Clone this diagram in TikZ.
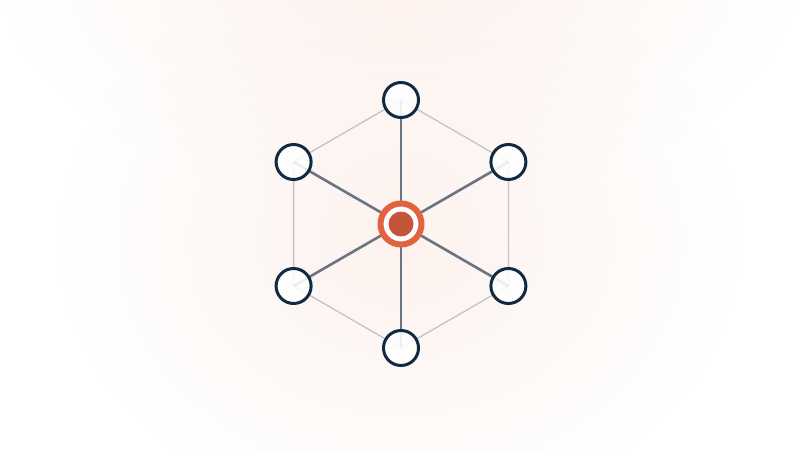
\documentclass[tikz,border=0pt]{standalone}
\usetikzlibrary{fadings}
\tikzfading[name=softglow, inner color=transparent!0, outer color=transparent!100]
\begin{document}
\begin{tikzpicture}[x=1pt,y=-1pt,
  outer/.style={circle,draw=navy,line width=3pt,fill=white,fill opacity=0.88,draw opacity=1,minimum size=35pt,inner sep=0pt},
  spoke/.style={draw=spokegray,line width=2.6pt},
  rim/.style={draw=rimgray,line width=1.3pt}]
\definecolor{navy}{HTML}{0F2A42}
\definecolor{spokegray}{HTML}{6B7581}
\definecolor{rimgray}{HTML}{C3C3C5}
\definecolor{ringorange}{HTML}{E0643F}
\definecolor{dotred}{HTML}{C4553B}
\definecolor{glow}{HTML}{FDF2EE}
\useasboundingbox (0,0) rectangle (800,450);
\fill[white] (0,0) rectangle (800,450);
\begin{scope}
\clip (0,0) rectangle (800,450);
\fill[glow, path fading=softglow] (400,-30) ellipse (400 and 230);
\fill[glow, path fading=softglow] (400,240) ellipse (340 and 280);
\end{scope}
\coordinate (c) at (401,224);
\coordinate (p1) at (401,100);
\coordinate (p2) at (508.4,162);
\coordinate (p3) at (508.4,286);
\coordinate (p4) at (401,348);
\coordinate (p5) at (293.6,286);
\coordinate (p6) at (293.6,162);
\draw[rim] (p1) -- (p2) -- (p3) -- (p4) -- (p5) -- (p6) -- cycle;
\foreach \i in {1,...,6} \draw[spoke] (c) -- (p\i);
\foreach \i in {1,...,6} \node[outer] (n\i) at (p\i) {};
\node[circle,draw=ringorange,line width=6pt,fill=white,minimum size=41pt,inner sep=0pt] (hub) at (c) {};
\node[circle,fill=dotred,minimum size=25pt,inner sep=0pt] (dot) at (c) {};
\end{tikzpicture}
\end{document}
